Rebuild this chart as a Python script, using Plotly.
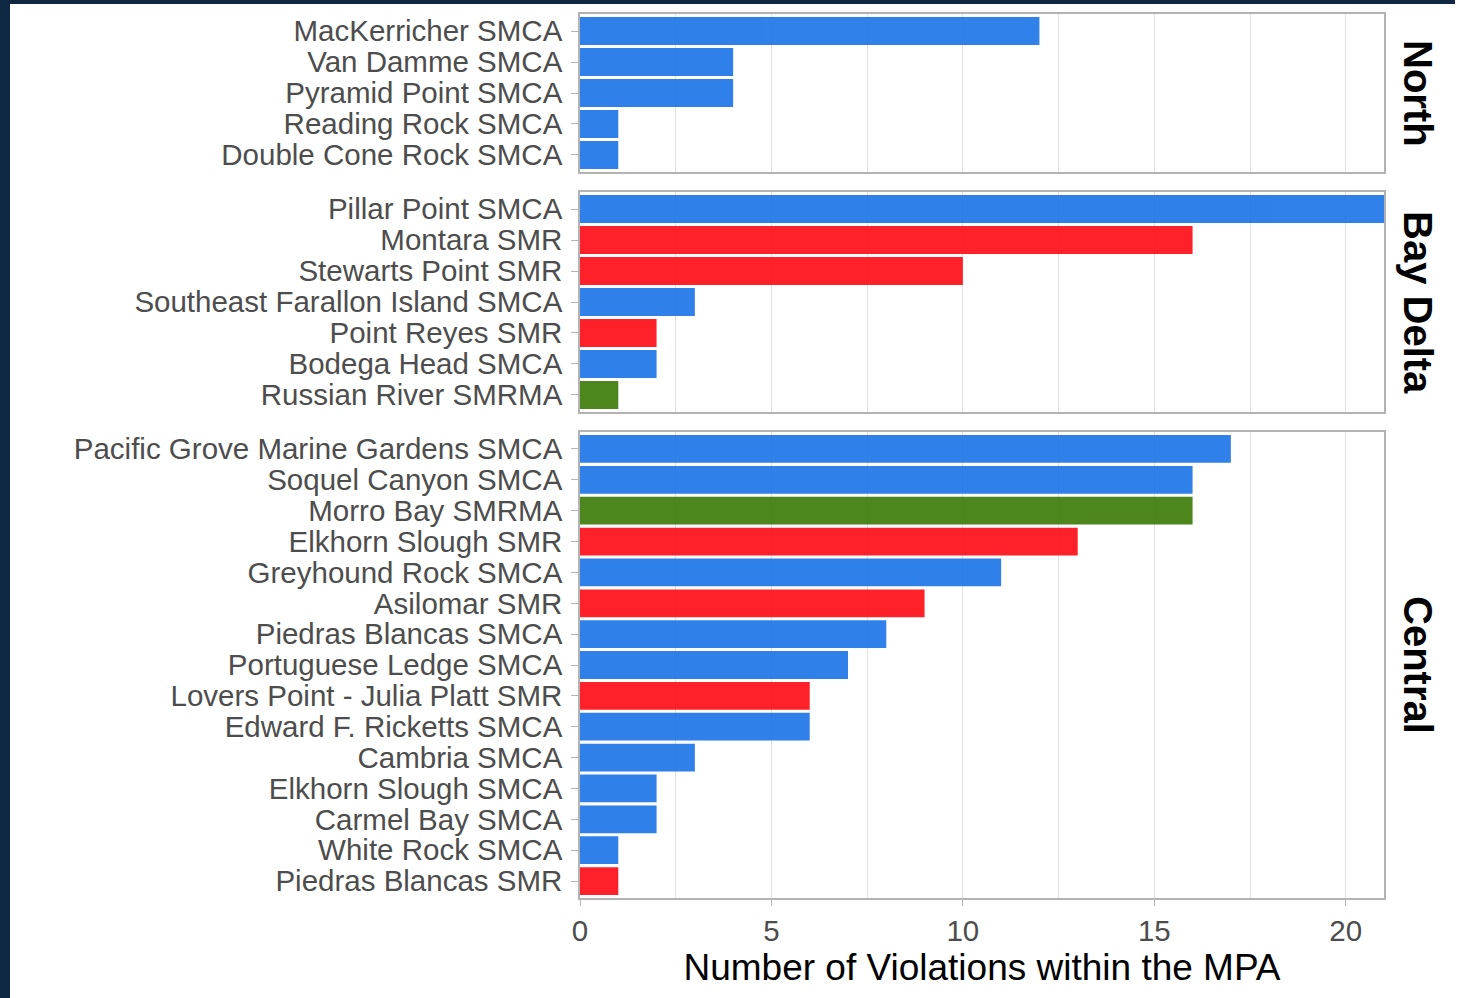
import plotly.graph_objects as go

# panels top -> bottom; names listed top -> bottom within each panel
NORTH_NAMES = ["MacKerricher SMCA", "Van Damme SMCA", "Pyramid Point SMCA",
               "Reading Rock SMCA", "Double Cone Rock SMCA"]
NORTH_VALUES = [12, 4, 4, 1, 1]

BAY_NAMES = ["Pillar Point SMCA", "Montara SMR", "Stewarts Point SMR",
             "Southeast Farallon Island SMCA", "Point Reyes SMR",
             "Bodega Head SMCA", "Russian River SMRMA"]
BAY_VALUES = [21, 16, 10, 3, 2, 2, 1]

CENTRAL_NAMES = ["Pacific Grove Marine Gardens SMCA", "Soquel Canyon SMCA",
                 "Morro Bay SMRMA", "Elkhorn Slough SMR", "Greyhound Rock SMCA",
                 "Asilomar SMR", "Piedras Blancas SMCA", "Portuguese Ledge SMCA",
                 "Lovers Point - Julia Platt SMR", "Edward F. Ricketts SMCA",
                 "Cambria SMCA", "Elkhorn Slough SMCA", "Carmel Bay SMCA",
                 "White Rock SMCA", "Piedras Blancas SMR"]
CENTRAL_VALUES = [17, 16, 16, 13, 11, 9, 8, 7, 6, 6, 3, 2, 2, 1, 1]

X_TICKS = [0, 5, 10, 15, 20]

PANELS = [("North", NORTH_NAMES, NORTH_VALUES),
          ("Bay Delta", BAY_NAMES, BAY_VALUES),
          ("Central", CENTRAL_NAMES, CENTRAL_VALUES)]

TYPE_COLOR = {"SMCA": "#1a73e8", "SMR": "#ff0a12", "SMRMA": "#3a7a05"}

W, H = 1476, 998
L, R, T, B = 580, 92, 14, 100
PW, PH = W - L - R, H - T - B
# panel pixel extents (top, bottom)
PANEL_PX = [(14, 172), (192, 412), (432, 898)]

GRID = "#e3e3e3"
FRAME = "#b3b3b3"
FONT = "Liberation Sans, Arial, sans-serif"
TICK_SIZE = 29.5


def mpa_type(name):
    return name.split()[-1]


def ypaper(px):
    return (H - B - px) / PH


fig = go.Figure()
layout = {}
for i, (label, names, vals) in enumerate(PANELS):
    k = "" if i == 0 else str(i + 1)
    fig.add_trace(go.Bar(
        x=vals, y=names, orientation="h", width=0.9,
        marker=dict(color=[TYPE_COLOR[mpa_type(n)] for n in names],
                    line=dict(width=0)),
        opacity=0.9, showlegend=False, hoverinfo="x+y",
        xaxis="x" + k, yaxis="y" + k))
    top, bot = PANEL_PX[i]
    n = len(names)
    bottom_panel = i == len(PANELS) - 1
    layout["yaxis" + k] = dict(
        domain=[ypaper(bot), ypaper(top)], anchor="x" + k,
        type="category", categoryorder="array",
        categoryarray=list(reversed(names)),
        tickmode="array", tickvals=names, ticktext=names,
        range=[-0.55, n - 0.45],
        showline=True, mirror=True, linecolor=FRAME, linewidth=1.5,
        ticks="outside", ticklen=7, tickcolor=FRAME, tickwidth=1.2,
        ticklabelstandoff=3,
        showgrid=False, zeroline=False,
        tickfont=dict(size=TICK_SIZE, color="#4d4d4d", family=FONT))
    layout["xaxis" + k] = dict(
        domain=[0, 1], anchor="y" + k, range=[0, 21],
        tickvals=X_TICKS, showticklabels=bottom_panel,
        ticks="outside" if bottom_panel else "", ticklen=6,
        tickcolor=FRAME, tickwidth=1.2,
        showgrid=True, gridcolor=GRID, gridwidth=1.3,
        minor=dict(dtick=2.5, tick0=0, showgrid=True, gridcolor=GRID,
                   gridwidth=1.1, ticks=""),
        showline=True, mirror=True, linecolor=FRAME, linewidth=1.5,
        zeroline=False,
        tickfont=dict(size=TICK_SIZE, color="#4d4d4d", family=FONT))
    if i > 0:
        layout["xaxis" + k]["matches"] = "x"
    fig.add_annotation(
        text="<b>%s</b>" % label, textangle=90, showarrow=False,
        xref="paper", yref="paper", x=(1418 - L) / PW,
        y=(ypaper(bot) + ypaper(top)) / 2, xanchor="center", yanchor="middle",
        font=dict(size=40, color="black", family=FONT))

layout["xaxis3"]["title"] = dict(
    text="Number of Violations within the MPA",
    font=dict(size=37, color="black", family=FONT), standoff=6)

# dark page frame (left and top edge of the screenshot)
NAVY = "#0e2742"
fig.add_shape(type="rect", xref="paper", yref="paper",
              x0=(0 - L) / PW, x1=(10 - L) / PW, y0=ypaper(H + 5), y1=ypaper(-5),
              fillcolor=NAVY, line_width=0, layer="below")
fig.add_shape(type="rect", xref="paper", yref="paper",
              x0=(0 - L) / PW, x1=(1455 - L) / PW, y0=ypaper(4), y1=ypaper(-5),
              fillcolor=NAVY, line_width=0, layer="below")

fig.update_layout(
    width=W, height=H, margin=dict(l=L, r=R, t=T, b=B),
    paper_bgcolor="white", plot_bgcolor="white",
    bargap=0.1, hovermode="closest",
    font=dict(family=FONT), **layout)

fig.write_html("out.html", config={"displayModeBar": False},
               post_script="document.body.style.margin='0';")
